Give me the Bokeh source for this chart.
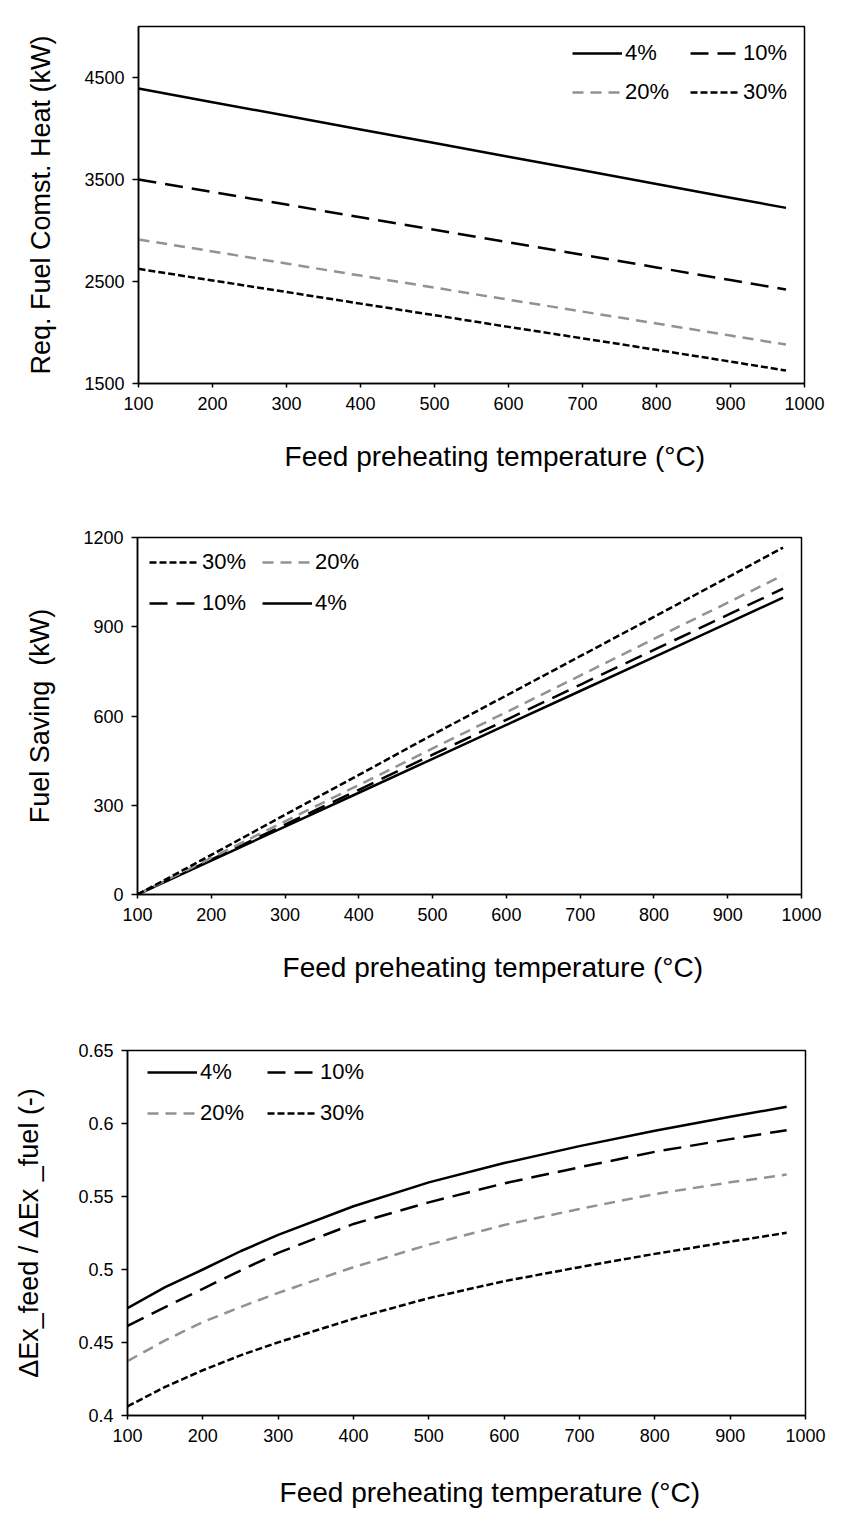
from bokeh.plotting import figure
from bokeh.models import FixedTicker, Legend, LegendItem, Range1d
from bokeh.layouts import column
from bokeh.embed import file_html
from bokeh.resources import INLINE

# Feed preheating temperature (°C)
temp = [100, 200, 300, 400, 500, 600, 700, 800, 900, 975]
temp_fine = [100, 150, 200, 250, 300, 400, 500, 600, 700, 800, 900, 975]
x_ticks = [100, 200, 300, 400, 500, 600, 700, 800, 900, 1000]

# Required fuel combustion heat (kW)
heat_4 = [4392, 4258, 4125, 3990, 3857, 3723, 3590, 3456, 3322, 3222]
heat_10 = [3500, 3377, 3254, 3130, 3007, 2884, 2761, 2638, 2514, 2422]
heat_20 = [2912, 2795, 2676, 2558, 2440, 2322, 2205, 2088, 1970, 1882]
heat_30 = [2624, 2510, 2397, 2283, 2170, 2055, 1943, 1830, 1715, 1627]
heat_ticks = [1500, 2500, 3500, 4500]

# Fuel saving (kW)
save_4 = [0, 114, 228, 342, 456, 570, 684, 798, 912, 998]
save_10 = [0, 117, 235, 352, 470, 587, 705, 822, 940, 1028]
save_20 = [0, 123, 246, 368, 491, 613, 736, 859, 981, 1073]
save_30 = [0, 133, 268, 402, 537, 669, 801, 933, 1066, 1166]
save_ticks = [0, 300, 600, 900, 1200]

# Exergy ratio ΔEx_feed / ΔEx_fuel (-), sampled on temp_fine
ratio_4 = [0.4736, 0.4879, 0.5000, 0.5125, 0.5237, 0.5433, 0.5597, 0.5729, 0.5845, 0.5950, 0.6046, 0.6114]
ratio_10 = [0.4613, 0.4743, 0.4868, 0.4993, 0.5114, 0.5312, 0.5460, 0.5590, 0.5700, 0.5806, 0.5893, 0.5954]
ratio_20 = [0.4373, 0.4515, 0.4640, 0.4743, 0.4840, 0.5016, 0.5170, 0.5305, 0.5415, 0.5517, 0.5597, 0.5650]
ratio_30 = [0.4062, 0.4196, 0.4310, 0.4412, 0.4501, 0.4663, 0.4804, 0.4920, 0.5016, 0.5107, 0.5191, 0.5251]
ratio_ticks = [0.4, 0.45, 0.5, 0.55, 0.6, 0.65]
ratio_tick_labels = ["0.4", "0.45", "0.5", "0.55", "0.6", "0.65"]

series_style = {
    "4%": dict(color="black", dash="solid"),
    "10%": dict(color="black", dash="18 9"),
    "20%": dict(color="#929292", dash="11 7"),
    "30%": dict(color="black", dash="7 3"),
}

FONT = "Liberation Sans"
X_TITLE = "\u00a0" * 6 + "Feed preheating temperature (\u00b0C)"


def make_panel(frame_w, frame_h, left, right, top, bottom, y_range, y_ticks,
               y_title, y_title_size, y_title_standoff, x_title_standoff):
    p = figure(frame_width=frame_w, frame_height=frame_h,
               min_border_left=left, min_border_right=right,
               min_border_top=top, min_border_bottom=bottom,
               x_range=Range1d(100, 1000), y_range=Range1d(*y_range),
               output_backend="svg", toolbar_location=None)
    p.frame_align = False
    p.xgrid.visible = False
    p.ygrid.visible = False
    p.outline_line_color = "black"
    p.outline_line_width = 1.5
    p.background_fill_color = "white"
    p.border_fill_color = "white"

    p.xaxis.ticker = FixedTicker(ticks=x_ticks)
    p.yaxis.ticker = FixedTicker(ticks=y_ticks)
    for ax in (p.xaxis[0], p.yaxis[0]):
        ax.axis_line_color = "black"
        ax.axis_line_width = 1.5
        ax.major_tick_line_color = "black"
        ax.major_tick_line_width = 1.5
        ax.major_tick_in = 0
        ax.minor_tick_line_color = None
        ax.major_label_text_font = FONT
        ax.major_label_text_font_size = "18px"
        ax.major_label_text_color = "black"
        ax.axis_label_text_font = FONT
        ax.axis_label_text_font_style = "normal"
        ax.axis_label_text_color = "black"
    p.xaxis.axis_label_text_font_size = "28px"
    p.yaxis.axis_label_text_font_size = y_title_size
    p.xaxis.major_tick_out = 4
    p.yaxis.major_tick_out = 6
    p.xaxis.major_label_standoff = 9
    p.yaxis.major_label_standoff = 8
    p.xaxis.axis_label = X_TITLE
    p.yaxis.axis_label = y_title
    p.xaxis.axis_label_standoff = x_title_standoff
    p.yaxis.axis_label_standoff = y_title_standoff
    return p


def add_series(p, xs, data, order, loc, spacing, label_width):
    rends = {}
    for name, ys in data.items():
        st = series_style[name]
        rends[name] = p.line(xs, ys, line_color=st["color"], line_width=2.5,
                             line_dash=st["dash"], line_join="round")
    items = [LegendItem(label=n, renderers=[rends[n]]) for n in order]
    leg = Legend(items=items, location=loc, orientation="horizontal", ncols=2,
                 glyph_width=50, glyph_height=20, label_height=20,
                 label_width=label_width,
                 label_standoff=3, spacing=spacing, padding=0, margin=0,
                 label_text_font=FONT, label_text_font_size="22px",
                 label_text_color="black",
                 background_fill_alpha=0, border_line_alpha=0)
    p.add_layout(leg, "center")


p1 = make_panel(666, 357, 138, 41, 26, 127, (1500, 5000), heat_ticks,
                "Req. Fuel Comst. Heat (kW)", "27px", 25, 28)
add_series(p1, temp,
           {"4%": heat_4, "10%": heat_10, "20%": heat_20, "30%": heat_30},
           ["4%", "10%", "20%", "30%"], (434, 278), 13, 52)

p2 = make_panel(664, 357, 137, 44, 27, 136, (0, 1200), save_ticks,
                "Fuel Saving\u00a0\u00a0(kW)", "27px", 25, 28)
add_series(p2, temp,
           {"4%": save_4, "10%": save_10, "20%": save_20, "30%": save_30},
           ["30%", "20%", "10%", "4%"], (12, 278), 15, 45)

p3 = make_panel(678, 365, 127, 40, 20, 107, (0.4, 0.65), ratio_ticks,
                "\u0394Ex_feed / \u0394Ex _fuel (-)", "27px", 31, 32)
p3.yaxis.major_label_overrides = dict(zip(ratio_ticks, ratio_tick_labels))
add_series(p3, temp_fine,
           {"4%": ratio_4, "10%": ratio_10, "20%": ratio_20, "30%": ratio_30},
           ["4%", "10%", "20%", "30%"], (20, 289), 15, 52)

layout = column(p1, p2, p3, spacing=0)

with open("out.html", "w") as f:
    f.write(file_html(layout, INLINE))
